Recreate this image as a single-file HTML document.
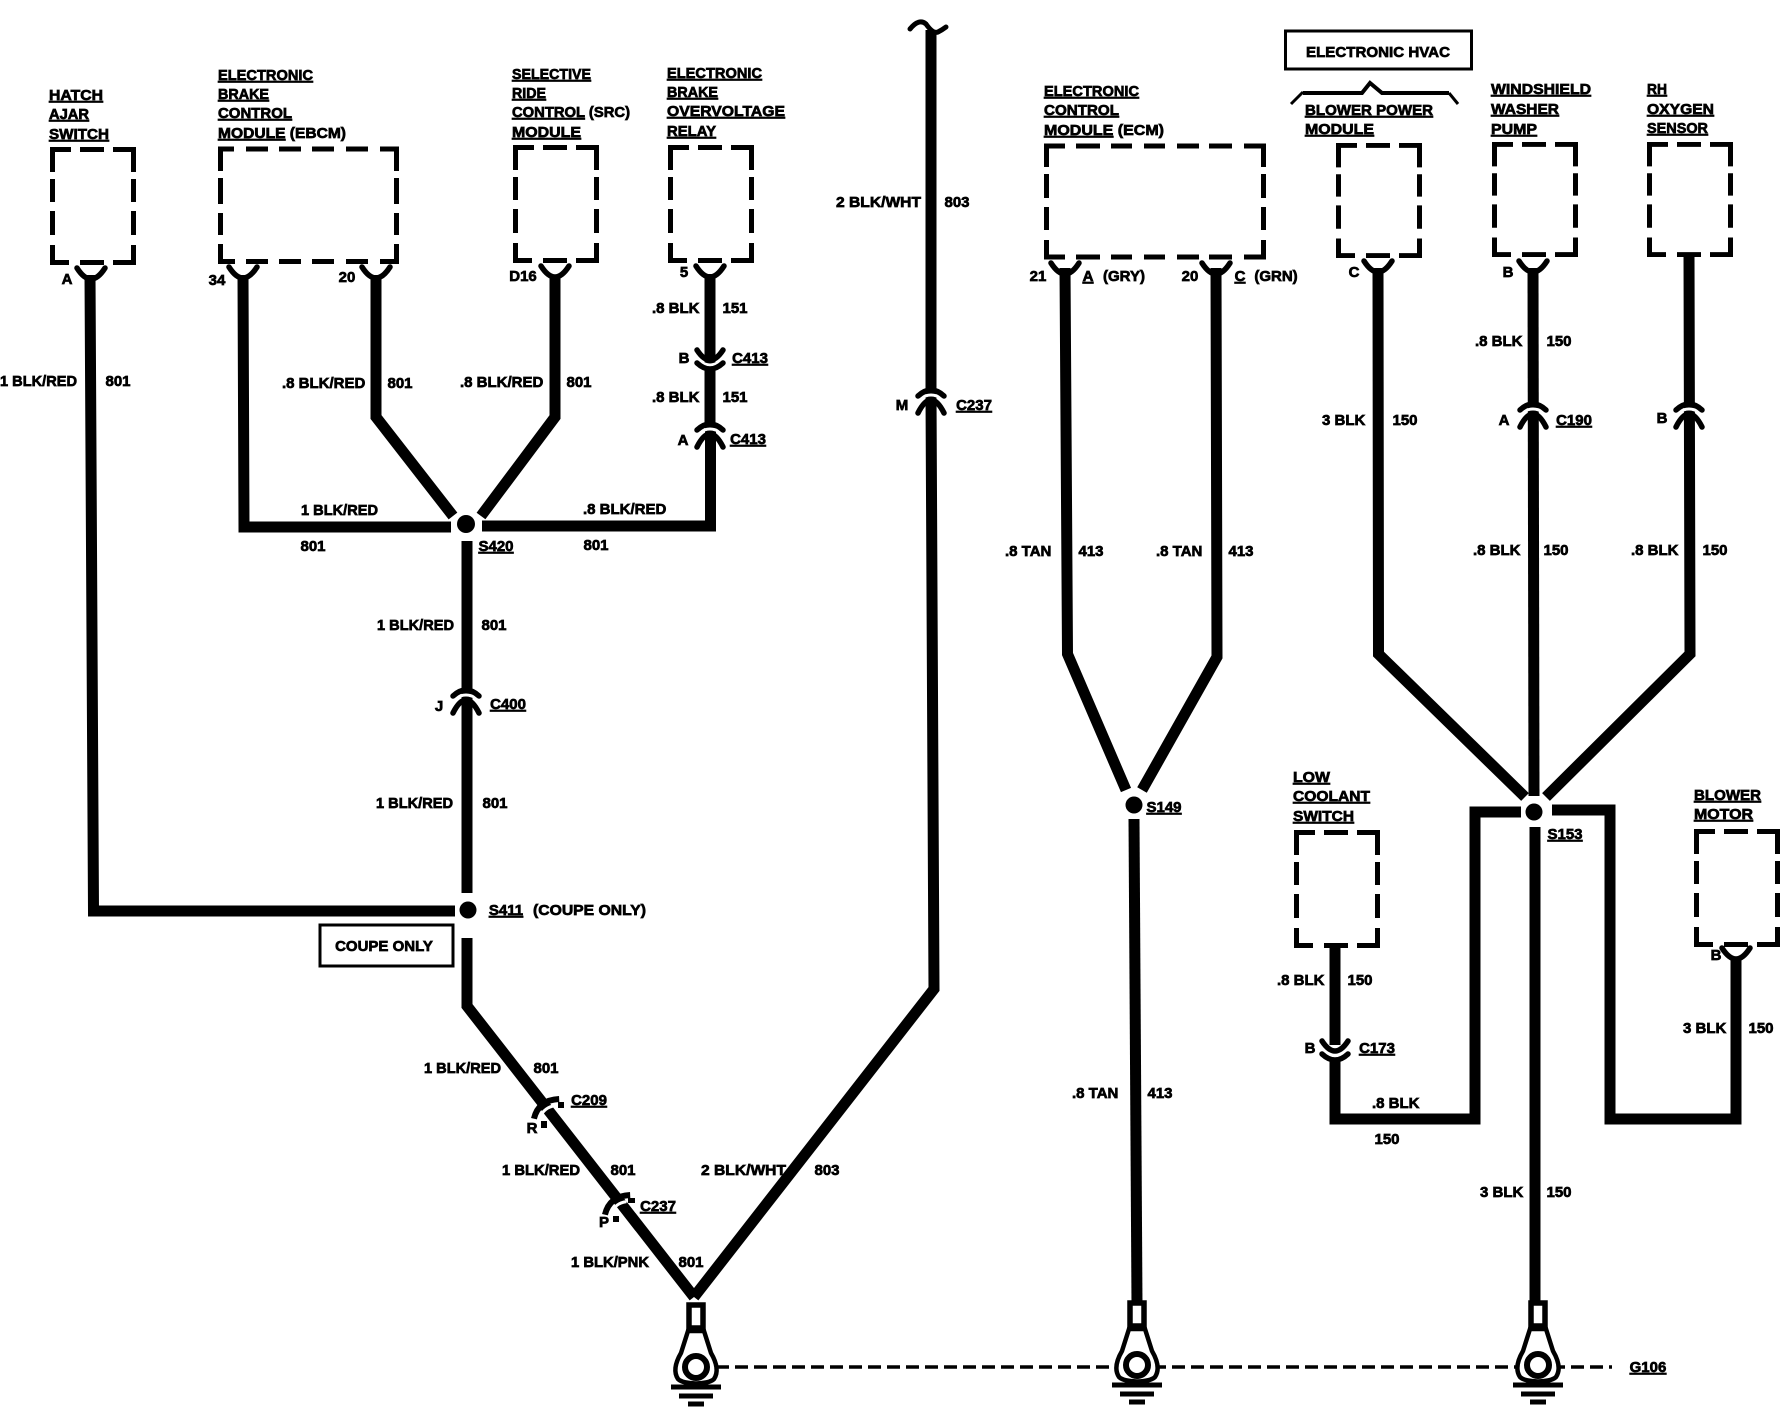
<!DOCTYPE html>
<html><head><meta charset="utf-8"><title>Ground distribution wiring diagram</title>
<style>
html,body{margin:0;padding:0;background:#fff}
svg{display:block}
text{font:bold 15px "Liberation Sans",sans-serif;fill:#000;stroke:#000;stroke-width:.7}
.m{text-anchor:middle}
.u{text-decoration:underline}
.w{fill:none;stroke:#000;stroke-width:11;stroke-linejoin:miter}
.b{fill:none;stroke:#000;stroke-width:5}
.c{fill:none;stroke:#000;stroke-width:5.5;stroke-linecap:round}
.g{fill:none;stroke:#fff;stroke-width:3}
</style></head><body>
<svg width="1782" height="1408" viewBox="0 0 1782 1408" xmlns="http://www.w3.org/2000/svg">
<defs>
<path id="box" class="b" d="M2.5,25V2.5H21M30,2.5H54M63,2.5H83.5V25M2.5,32V55M2.5,64V88M83.5,32V55M83.5,64V88M2.5,98V115.5H19M30,115.5H54M63,115.5H83.5V98"/>
<path id="cup" class="c" d="M-14,-8Q0,14 14,-8"/>
<g id="down"><path class="g" d="M-9,1Q0,7 9,1"/><path class="c" d="M-13,-11Q0,9 13,-11"/><path class="c" d="M-13,2Q0,14 13,2"/></g>
<g id="up"><path class="g" d="M-10,1Q0,-5 10,1"/><path class="c" d="M-13,-1Q0,-13 13,-1"/><path class="c" d="M-13,16Q0,-10 13,16"/></g>
<g id="gnd">
<rect x="-7" y="-62" width="14" height="23" fill="#fff" stroke="#000" stroke-width="5.5"/>
<path fill="#fff" stroke="#000" stroke-width="4.5" d="M-8,-36L-15,-14C-22,-2 -22,6 -18,12C-12,18 12,18 18,12C22,6 22,-2 15,-14L8,-36Z"/>
<circle cx="0" cy="0" r="11" fill="#fff" stroke="#000" stroke-width="6"/>
<path class="b" d="M-25,20H25" stroke-width="4"/><path class="b" d="M-17,29H17" stroke-width="3.5"/><path class="b" d="M-8,37H8" stroke-width="3.5"/>
</g>
</defs>

<!-- boxes -->
<use href="#box" x="50" y="147"/>
<path class="b" d="M220.500,171V149H234M246,149H268M279,149H301M312,149H334M346,149H368M380,149H396.500V171M220.500,178V204M220.500,213V235M396.500,178V204M396.500,213V235M220.500,244V261.500H235M246,261.500H268M279,261.500H301M312,261.500H334M346,261.500H368M380,261.500H396.500V244"/>
<use href="#box" x="513" y="145"/>
<use href="#box" x="668" y="145"/>
<path class="b" d="M1046.500,167V146H1065M1076,146H1100M1111,146H1132M1144,146H1165M1177,146H1199M1209,146H1232M1244,146H1263.500V167M1046.500,174V198M1046.500,207V230M1263.500,174V198M1263.500,207V230M1046.500,240V257H1065M1076,257H1100M1111,257H1132M1144,257H1165M1177,257H1199M1209,257H1232M1244,257H1263.500V240"/>
<use href="#box" transform="translate(1336,143) scale(1,.975)"/>
<use href="#box" transform="translate(1492,142) scale(1,.975)"/>
<use href="#box" transform="translate(1647,142) scale(1,.975)"/>
<use href="#box" x="1294" y="830"/>
<use href="#box" x="1694" y="829"/>
<rect x="1285.500" y="31" width="186" height="38" fill="none" stroke="#000" stroke-width="3"/>
<rect x="320" y="925" width="133" height="41" fill="none" stroke="#000" stroke-width="3"/>
<path fill="none" stroke="#000" stroke-width="3" d="M1291,104L1303,92"/><path fill="none" stroke="#000" stroke-width="4" d="M1303,93H1362L1370,83L1382,93H1449"/><path fill="none" stroke="#000" stroke-width="3" d="M1449,93L1458,104"/>

<!-- wires -->
<path class="w" d="M90,275L93.500,911H455"/>
<path class="w" d="M243,275L244,527H451"/>
<path class="w" d="M376,275V417L453,516"/>
<path class="w" d="M555,275V417L481,516"/>
<path class="w" d="M482,526H710.500V428"/>
<path class="w" stroke-width="10" d="M710,274V428"/>
<path class="w" d="M467,541V893M467,938V1006L694,1297"/>
<path class="w" d="M931,30V395L934,989L694,1297"/>
<path fill="none" stroke="#000" stroke-width="5" stroke-linecap="round" d="M910,29Q919,18 926,24Q933,34 938,32Q942,30 946,27"/>
<path class="w" d="M1065,268L1067.500,654L1126,790"/>
<path class="w" d="M1216,268L1217,657L1142,790"/>
<path class="w" d="M1134,819L1137,1305"/>
<path class="w" d="M1378,268L1378.500,654L1525,797"/>
<path class="w" d="M1533,268L1534,796"/>
<path class="w" d="M1689,253L1690,654L1546,797"/>
<path class="w" d="M1521,812H1475V1119H1335V1055"/>
<path class="w" d="M1335,947V1045"/>
<path class="w" d="M1552,810H1610V1119H1736V958"/>
<path class="w" d="M1535,827V1304"/>

<!-- dots -->
<circle cx="466" cy="524" r="9"/><circle cx="468" cy="910" r="8.500"/>
<circle cx="1134" cy="805" r="8.500"/><circle cx="1534" cy="812" r="8.500"/>

<!-- connectors -->
<use href="#cup" x="91" y="276"/><use href="#cup" x="243" y="275"/><use href="#cup" x="376" y="275"/>
<use href="#cup" x="555" y="274"/><use href="#cup" x="710" y="274"/>
<use href="#cup" x="1065" y="271"/><use href="#cup" x="1216" y="271"/><use href="#cup" x="1378" y="269"/><use href="#cup" x="1533" y="269"/>
<use href="#cup" x="1736" y="956"/>
<use href="#down" x="710" y="361"/><use href="#down" x="1335" y="1052"/>
<use href="#up" x="710" y="431"/><use href="#up" x="466" y="697"/><use href="#up" x="931" y="397"/><use href="#up" x="1533" y="411"/><use href="#up" x="1689" y="411"/>
<g transform="translate(547 1111) rotate(-38)"><path fill="none" stroke="#000" stroke-width="6" d="M-15,-2Q0,-14 17,-2"/><path class="g" d="M-10,1Q0,-5 10,1" stroke-width="2.500"/></g>
<rect x="541" y="1121" width="6" height="7"/><rect x="558" y="1102" width="6" height="6"/>
<g transform="translate(618 1207) rotate(-38)"><path fill="none" stroke="#000" stroke-width="6" d="M-15,-2Q0,-14 17,-2"/><path class="g" d="M-10,1Q0,-5 10,1" stroke-width="2.500"/></g>
<rect x="613" y="1216" width="6" height="6"/><rect x="628" y="1198" width="7" height="5"/>

<!-- grounds -->
<path fill="none" stroke="#000" stroke-width="3.500" stroke-dasharray="13 6" d="M716,1367H1612"/>
<use href="#gnd" x="696" y="1367"/><use href="#gnd" x="1137" y="1365"/><use href="#gnd" x="1538" y="1365"/>

<!-- component labels -->
<text x="49" y="100" class="u" textLength="54" lengthAdjust="spacingAndGlyphs">HATCH</text><text x="49" y="119" class="u" textLength="40" lengthAdjust="spacingAndGlyphs">AJAR</text><text x="49" y="139" class="u" textLength="60" lengthAdjust="spacingAndGlyphs">SWITCH</text>
<text x="218" y="80" class="u" textLength="95" lengthAdjust="spacingAndGlyphs">ELECTRONIC</text><text x="218" y="99" class="u" textLength="51" lengthAdjust="spacingAndGlyphs">BRAKE</text><text x="218" y="118" class="u" textLength="74" lengthAdjust="spacingAndGlyphs">CONTROL</text><text x="218" y="138" textLength="128" lengthAdjust="spacingAndGlyphs"><tspan class="u">MODULE</tspan> (EBCM)</text>
<text x="512" y="79" class="u" textLength="79" lengthAdjust="spacingAndGlyphs">SELECTIVE</text><text x="512" y="98" class="u" textLength="34" lengthAdjust="spacingAndGlyphs">RIDE</text><text x="512" y="117" textLength="118" lengthAdjust="spacingAndGlyphs"><tspan class="u">CONTROL</tspan> (SRC)</text><text x="512" y="137" class="u" textLength="69" lengthAdjust="spacingAndGlyphs">MODULE</text>
<text x="667" y="78" class="u" textLength="95" lengthAdjust="spacingAndGlyphs">ELECTRONIC</text><text x="667" y="97" class="u" textLength="51" lengthAdjust="spacingAndGlyphs">BRAKE</text><text x="667" y="116" class="u" textLength="118" lengthAdjust="spacingAndGlyphs">OVERVOLTAGE</text><text x="667" y="136" class="u" textLength="49" lengthAdjust="spacingAndGlyphs">RELAY</text>
<text x="1044" y="96" class="u" textLength="95" lengthAdjust="spacingAndGlyphs">ELECTRONIC</text><text x="1044" y="115" class="u" textLength="75" lengthAdjust="spacingAndGlyphs">CONTROL</text><text x="1044" y="135" textLength="120" lengthAdjust="spacingAndGlyphs"><tspan class="u">MODULE</tspan> (ECM)</text>
<text x="1378" y="57" class="m" textLength="144" lengthAdjust="spacingAndGlyphs">ELECTRONIC HVAC</text>
<text x="1305" y="115" class="u" textLength="128" lengthAdjust="spacingAndGlyphs">BLOWER POWER</text><text x="1305" y="134" class="u" textLength="69" lengthAdjust="spacingAndGlyphs">MODULE</text>
<text x="1491" y="94" class="u" textLength="100" lengthAdjust="spacingAndGlyphs">WINDSHIELD</text><text x="1491" y="114" class="u" textLength="68" lengthAdjust="spacingAndGlyphs">WASHER</text><text x="1491" y="134" class="u" textLength="46" lengthAdjust="spacingAndGlyphs">PUMP</text>
<text x="1647" y="94" class="u" textLength="20" lengthAdjust="spacingAndGlyphs">RH</text><text x="1647" y="114" class="u" textLength="67" lengthAdjust="spacingAndGlyphs">OXYGEN</text><text x="1647" y="133" class="u" textLength="61" lengthAdjust="spacingAndGlyphs">SENSOR</text>
<text x="1293" y="782" class="u" textLength="37" lengthAdjust="spacingAndGlyphs">LOW</text><text x="1293" y="801" class="u" textLength="77" lengthAdjust="spacingAndGlyphs">COOLANT</text><text x="1293" y="821" class="u" textLength="61" lengthAdjust="spacingAndGlyphs">SWITCH</text>
<text x="1694" y="800" class="u" textLength="67" lengthAdjust="spacingAndGlyphs">BLOWER</text><text x="1694" y="819" class="u" textLength="59" lengthAdjust="spacingAndGlyphs">MOTOR</text>
<text x="384" y="951" class="m">COUPE ONLY</text>

<!-- pins -->
<text x="67" y="284" class="m">A</text><text x="217" y="285" class="m">34</text><text x="347" y="282" class="m">20</text><text x="523" y="281" class="m">D16</text><text x="684" y="277" class="m">5</text>
<text x="1038" y="281" class="m">21</text><text x="1088" y="281" class="m u">A</text><text x="1124" y="281" class="m">(GRY)</text>
<text x="1190" y="281" class="m">20</text><text x="1240" y="281" class="m u">C</text><text x="1276" y="281" class="m">(GRN)</text>
<text x="1354" y="277" class="m">C</text><text x="1508" y="277" class="m">B</text><text x="1716" y="960" class="m">B</text>
<text x="684" y="363" class="m">B</text><text x="750" y="363" class="m u">C413</text>
<text x="683" y="445" class="m">A</text><text x="748" y="444" class="m u">C413</text>
<text x="439" y="711" class="m">J</text><text x="508" y="709" class="m u">C400</text>
<text x="902" y="410" class="m">M</text><text x="974" y="410" class="m u">C237</text>
<text x="1504" y="425" class="m">A</text><text x="1574" y="425" class="m u">C190</text><text x="1662" y="423" class="m">B</text>
<text x="1310" y="1053" class="m">B</text><text x="1377" y="1053" class="m u">C173</text>
<text x="589" y="1105" class="m u">C209</text><text x="532" y="1133" class="m">R</text>
<text x="658" y="1211" class="m u">C237</text><text x="604" y="1227" class="m">P</text>
<text x="496" y="551" class="m u">S420</text>
<text x="506" y="915" class="m u">S411</text><text x="533" y="915" textLength="113" lengthAdjust="spacingAndGlyphs">(COUPE ONLY)</text>
<text x="1164" y="812" class="m u">S149</text><text x="1565" y="839" class="m u">S153</text>
<text x="1648" y="1372" class="m u">G106</text>

<!-- wire labels -->
<text x="0" y="386" textLength="77" lengthAdjust="spacingAndGlyphs">1 BLK/RED</text><text x="118" y="386" class="m">801</text>
<text x="282" y="388">.8 BLK/RED</text><text x="400" y="388" class="m">801</text>
<text x="460" y="387">.8 BLK/RED</text><text x="579" y="387" class="m">801</text>
<text x="301" y="515" textLength="77" lengthAdjust="spacingAndGlyphs">1 BLK/RED</text><text x="313" y="551" class="m">801</text>
<text x="583" y="514">.8 BLK/RED</text><text x="596" y="550" class="m">801</text>
<text x="652" y="313">.8 BLK</text><text x="735" y="313" class="m">151</text>
<text x="652" y="402">.8 BLK</text><text x="735" y="402" class="m">151</text>
<text x="377" y="630" textLength="77" lengthAdjust="spacingAndGlyphs">1 BLK/RED</text><text x="494" y="630" class="m">801</text>
<text x="376" y="808" textLength="77" lengthAdjust="spacingAndGlyphs">1 BLK/RED</text><text x="495" y="808" class="m">801</text>
<text x="424" y="1073" textLength="77" lengthAdjust="spacingAndGlyphs">1 BLK/RED</text><text x="546" y="1073" class="m">801</text>
<text x="502" y="1175" textLength="78" lengthAdjust="spacingAndGlyphs">1 BLK/RED</text><text x="623" y="1175" class="m">801</text>
<text x="571" y="1267" textLength="78" lengthAdjust="spacingAndGlyphs">1 BLK/PNK</text><text x="691" y="1267" class="m">801</text>
<text x="701" y="1175" textLength="85" lengthAdjust="spacingAndGlyphs">2 BLK/WHT</text><text x="827" y="1175" class="m">803</text>
<text x="836" y="207" textLength="85" lengthAdjust="spacingAndGlyphs">2 BLK/WHT</text><text x="957" y="207" class="m">803</text>
<text x="1005" y="556">.8 TAN</text><text x="1091" y="556" class="m">413</text>
<text x="1156" y="556">.8 TAN</text><text x="1241" y="556" class="m">413</text>
<text x="1072" y="1098">.8 TAN</text><text x="1160" y="1098" class="m">413</text>
<text x="1475" y="346">.8 BLK</text><text x="1559" y="346" class="m">150</text>
<text x="1322" y="425">3 BLK</text><text x="1405" y="425" class="m">150</text>
<text x="1473" y="555">.8 BLK</text><text x="1556" y="555" class="m">150</text>
<text x="1631" y="555">.8 BLK</text><text x="1715" y="555" class="m">150</text>
<text x="1277" y="985">.8 BLK</text><text x="1360" y="985" class="m">150</text>
<text x="1372" y="1108">.8 BLK</text><text x="1387" y="1144" class="m">150</text>
<text x="1683" y="1033">3 BLK</text><text x="1761" y="1033" class="m">150</text>
<text x="1480" y="1197">3 BLK</text><text x="1559" y="1197" class="m">150</text>
</svg>
</body></html>
